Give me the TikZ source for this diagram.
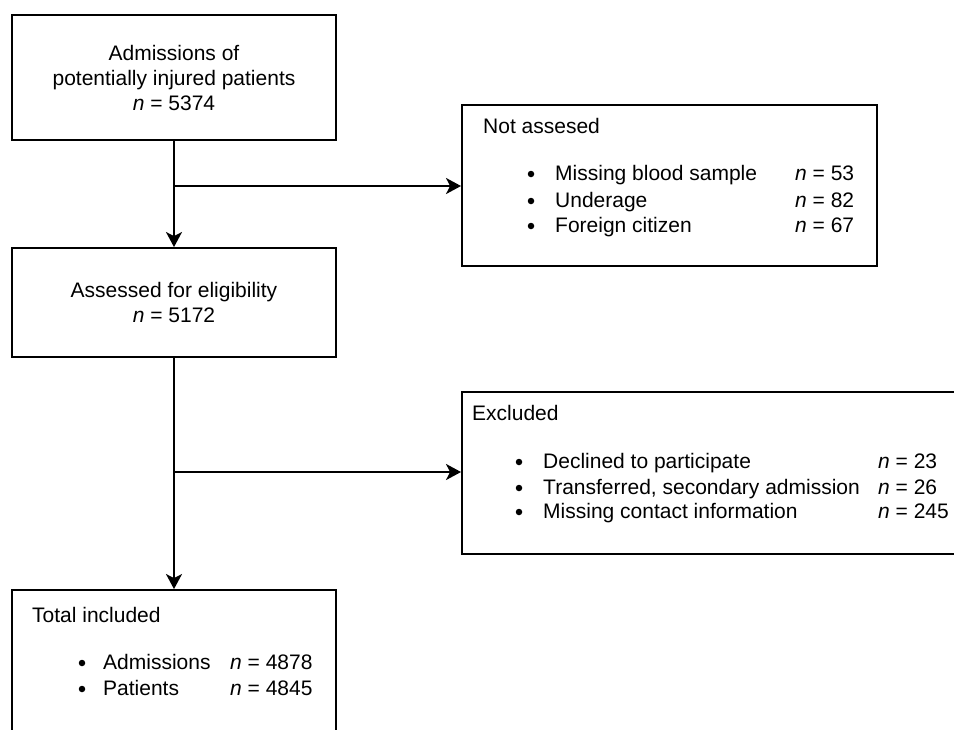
\documentclass[tikz,border=0pt]{standalone}
\usepackage{fontspec}
\setmainfont{Liberation Sans}
\usetikzlibrary{arrows.meta}
\begin{document}
\begin{tikzpicture}[x=1pt,y=1pt,
  box/.style={draw,line width=1.9pt,rectangle,inner sep=0pt,align=center,
    font=\fontsize{21}{25}\selectfont},
  txt/.style={anchor=base west,inner sep=0pt,font=\fontsize{21}{25}\selectfont},
  bul/.style={circle,fill=black,inner sep=0pt,minimum size=6.5pt},
  conn/.style={line width=1.9pt},
  arr/.style={conn,-{Stealth[length=15pt,width=16pt,inset=4pt]}}]
\clip (0,0) rectangle (954,-729);
\fill[white] (0,0) rectangle (954,-729);
% boxes
\node[box,minimum width=324pt,minimum height=125pt] (adm) at (174,-77.5)
  {Admissions of\\potentially injured patients\\\textit{n} = 5374};
\node[box,minimum width=415pt,minimum height=161pt] (na) at (669.5,-185.5) {};
\node[box,minimum width=324pt,minimum height=109pt] (ass) at (174,-302.5)
  {Assessed for eligibility\\\textit{n} = 5172};
\node[box,minimum width=502pt,minimum height=162pt] (ex) at (713,-473) {};
\node[box,minimum width=324pt,minimum height=170pt] (tot) at (174,-675) {};
% Not assessed texts
\node[txt] (nat) at (483,-133) {Not assesed};
\node[bul] (nab1) at (531,-174) {};
\node[txt] (nai1) at (555,-180) {Missing blood sample};
\node[txt] (nan1) at (795,-180) {\textit{n} = 53};
\node[bul] (nab2) at (531,-201) {};
\node[txt] (nai2) at (555,-207) {Underage};
\node[txt] (nan2) at (795,-207) {\textit{n} = 82};
\node[bul] (nab3) at (531,-226) {};
\node[txt] (nai3) at (555,-232) {Foreign citizen};
\node[txt] (nan3) at (795,-232) {\textit{n} = 67};
% Excluded texts
\node[txt] (ext) at (472,-420) {Excluded};
\node[bul] (exb1) at (519,-462) {};
\node[txt] (exi1) at (543,-468) {Declined to participate};
\node[txt] (exn1) at (878,-468) {\textit{n} = 23};
\node[bul] (exb2) at (519,-488) {};
\node[txt] (exi2) at (543,-494) {Transferred, secondary admission};
\node[txt] (exn2) at (878,-494) {\textit{n} = 26};
\node[bul] (exb3) at (519,-512) {};
\node[txt] (exi3) at (543,-518) {Missing contact information};
\node[txt] (exn3) at (878,-518) {\textit{n} = 245};
% Total included texts
\node[txt] (tott) at (32,-622) {Total included};
\node[bul] (totb1) at (82,-663) {};
\node[txt] (toti1) at (103,-669) {Admissions};
\node[txt] (totn1) at (230,-669) {\textit{n} = 4878};
\node[bul] (totb2) at (82,-689) {};
\node[txt] (toti2) at (103,-695) {Patients};
\node[txt] (totn2) at (230,-695) {\textit{n} = 4845};
% connectors
\coordinate (br1) at (174,-186);
\coordinate (br2) at (174,-472);
\draw[arr] (adm.south) -- (ass.north);
\draw[arr] (br1) -- (br1 -| na.west);
\draw[arr] (ass.south) -- (tot.north);
\draw[arr] (br2) -- (br2 -| ex.west);
\end{tikzpicture}
\end{document}
